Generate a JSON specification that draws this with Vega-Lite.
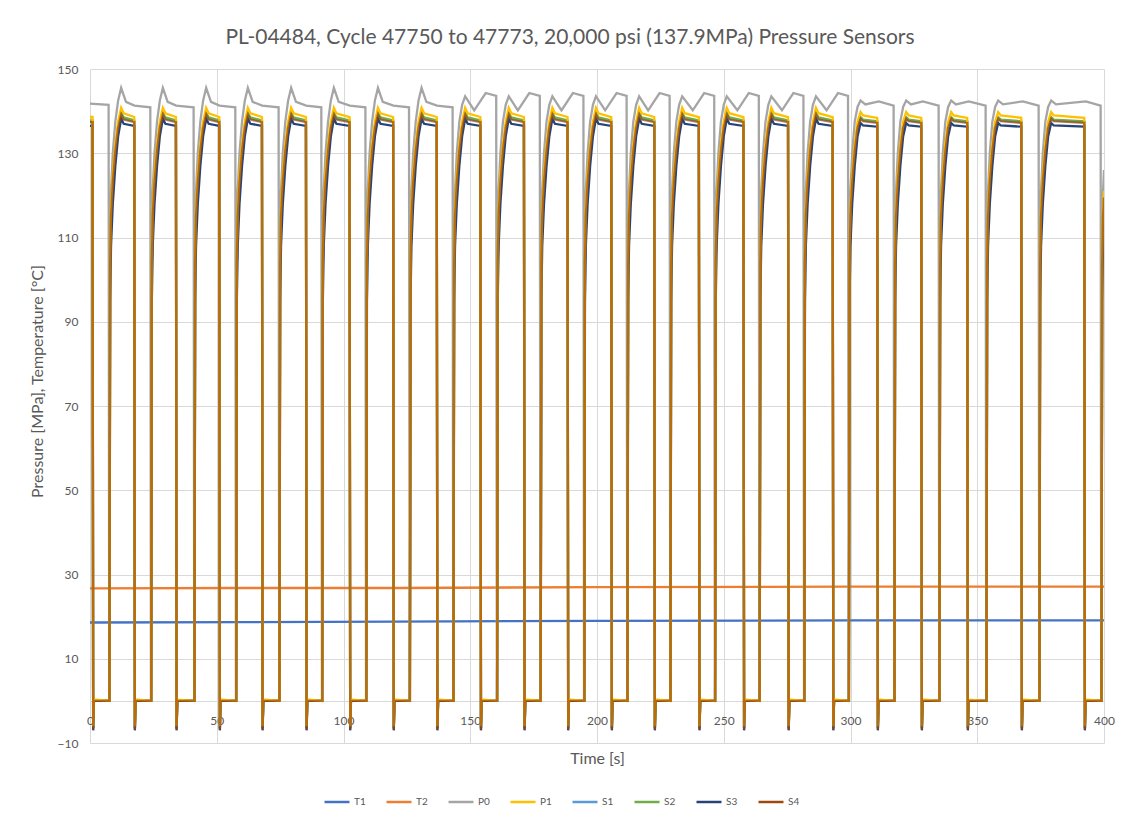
{
"$schema": "https://vega.github.io/schema/vega-lite/v6.json",
"width": 1014, "height": 674,
"autosize": {"type": "none"},
"padding": {"left": 90, "top": 69, "right": 23, "bottom": 80},
"background": "white",
"title": {"text": "PL-04484, Cycle 47750 to 47773, 20,000 psi (137.9MPa) Pressure Sensors", "font": "Lato", "fontSize": 21, "fontWeight": "normal", "color": "#595959", "anchor": "middle", "dx": -27, "offset": 15},
"datasets": {
"temps": [
{"t":0,"T1":18.6,"T2":26.7},{"t":60,"T1":18.7,"T2":26.8},{"t":120,"T1":18.8,"T2":26.8},{"t":200,"T1":19.0,"T2":27.0},{"t":300,"T1":19.1,"T2":27.1},{"t":400,"T1":19.1,"T2":27.1}
],
"p0": [
{"t":0,"P0":141.8},
{"t":7.34,"P0":141.5},{"t":7.59,"P0":0},{"t":7.94,"P0":108},{"t":8.29,"P0":121},{"t":8.99,"P0":130},{"t":9.99,"P0":137.5},{"t":11.09,"P0":142.5},{"t":12.29,"P0":145.5},{"t":14.19,"P0":142.2},{"t":17.55,"P0":141.3},
{"t":23.79,"P0":140.9},{"t":24.04,"P0":0},{"t":24.39,"P0":108},{"t":24.74,"P0":121},{"t":25.44,"P0":130},{"t":26.44,"P0":137.5},{"t":27.54,"P0":142.5},{"t":28.74,"P0":145.5},{"t":30.64,"P0":142.2},{"t":34.00,"P0":141.3},
{"t":40.87,"P0":140.9},{"t":41.12,"P0":0},{"t":41.47,"P0":108},{"t":41.82,"P0":121},{"t":42.52,"P0":130},{"t":43.52,"P0":137.5},{"t":44.62,"P0":142.5},{"t":45.82,"P0":145.5},{"t":47.72,"P0":142.2},{"t":51.08,"P0":141.3},
{"t":57.32,"P0":140.9},{"t":57.57,"P0":0},{"t":57.92,"P0":108},{"t":58.27,"P0":121},{"t":58.97,"P0":130},{"t":59.97,"P0":137.5},{"t":61.07,"P0":142.5},{"t":62.27,"P0":145.5},{"t":64.17,"P0":142.2},{"t":67.93,"P0":141.3},
{"t":74.40,"P0":140.9},{"t":74.65,"P0":0},{"t":75.00,"P0":108},{"t":75.35,"P0":121},{"t":76.05,"P0":130},{"t":77.05,"P0":137.5},{"t":78.15,"P0":142.5},{"t":79.35,"P0":145.5},{"t":81.25,"P0":142.2},{"t":85.29,"P0":141.3},
{"t":91.25,"P0":140.9},{"t":91.50,"P0":0},{"t":91.85,"P0":108},{"t":92.20,"P0":121},{"t":92.90,"P0":130},{"t":93.90,"P0":137.5},{"t":95.00,"P0":142.5},{"t":96.20,"P0":145.5},{"t":98.10,"P0":142.2},{"t":102.49,"P0":141.3},
{"t":108.64,"P0":140.9},{"t":108.89,"P0":0},{"t":109.24,"P0":108},{"t":109.59,"P0":121},{"t":110.29,"P0":130},{"t":111.29,"P0":137.5},{"t":112.39,"P0":142.5},{"t":113.59,"P0":145.5},{"t":115.49,"P0":142.2},{"t":119.68,"P0":141.3},
{"t":125.84,"P0":140.9},{"t":126.09,"P0":0},{"t":126.44,"P0":108},{"t":126.79,"P0":121},{"t":127.49,"P0":130},{"t":128.49,"P0":137.5},{"t":129.59,"P0":142.5},{"t":130.79,"P0":145.5},{"t":132.69,"P0":142.2},{"t":136.88,"P0":141.3},
{"t":143.04,"P0":140.9},{"t":143.29,"P0":0},{"t":143.64,"P0":108},{"t":143.99,"P0":121},{"t":144.69,"P0":130},{"t":145.69,"P0":137.5},{"t":146.79,"P0":141.5},{"t":147.99,"P0":143.5},{"t":151.58,"P0":140.2},{"t":156.08,"P0":144.3},
{"t":160.24,"P0":143.6},{"t":160.49,"P0":0},{"t":160.84,"P0":108},{"t":161.19,"P0":121},{"t":161.89,"P0":130},{"t":162.89,"P0":137.5},{"t":163.99,"P0":141.5},{"t":165.19,"P0":143.5},{"t":168.78,"P0":140.2},{"t":173.28,"P0":144.3},
{"t":177.44,"P0":143.6},{"t":177.69,"P0":0},{"t":178.04,"P0":108},{"t":178.39,"P0":121},{"t":179.09,"P0":130},{"t":180.09,"P0":137.5},{"t":181.19,"P0":141.5},{"t":182.39,"P0":143.5},{"t":185.98,"P0":140.2},{"t":190.48,"P0":144.3},
{"t":194.64,"P0":143.6},{"t":194.89,"P0":0},{"t":195.24,"P0":108},{"t":195.59,"P0":121},{"t":196.29,"P0":130},{"t":197.29,"P0":137.5},{"t":198.39,"P0":141.5},{"t":199.59,"P0":143.5},{"t":203.22,"P0":140.2},{"t":207.72,"P0":144.3},
{"t":211.68,"P0":143.6},{"t":211.93,"P0":0},{"t":212.28,"P0":108},{"t":212.63,"P0":121},{"t":213.33,"P0":130},{"t":214.33,"P0":137.5},{"t":215.43,"P0":141.5},{"t":216.63,"P0":143.5},{"t":220.18,"P0":140.2},{"t":224.68,"P0":144.3},
{"t":228.65,"P0":143.6},{"t":228.90,"P0":0},{"t":229.25,"P0":108},{"t":229.60,"P0":121},{"t":230.30,"P0":130},{"t":231.30,"P0":137.5},{"t":232.40,"P0":141.5},{"t":233.60,"P0":143.5},{"t":237.78,"P0":140.2},{"t":242.28,"P0":144.3},
{"t":246.24,"P0":143.6},{"t":246.49,"P0":0},{"t":246.84,"P0":108},{"t":247.19,"P0":121},{"t":247.89,"P0":130},{"t":248.89,"P0":137.5},{"t":249.99,"P0":141.5},{"t":251.19,"P0":143.5},{"t":255.37,"P0":140.2},{"t":259.87,"P0":144.3},
{"t":263.83,"P0":143.6},{"t":264.08,"P0":0},{"t":264.43,"P0":108},{"t":264.78,"P0":121},{"t":265.48,"P0":130},{"t":266.48,"P0":137.5},{"t":267.58,"P0":141.5},{"t":268.78,"P0":143.5},{"t":272.96,"P0":140.2},{"t":277.46,"P0":144.3},
{"t":281.43,"P0":143.6},{"t":281.68,"P0":0},{"t":282.03,"P0":108},{"t":282.38,"P0":121},{"t":283.08,"P0":130},{"t":284.08,"P0":137.5},{"t":285.18,"P0":141.5},{"t":286.38,"P0":143.5},{"t":290.56,"P0":140.2},{"t":295.06,"P0":144.3},
{"t":299.02,"P0":143.6},{"t":299.27,"P0":0},{"t":299.62,"P0":108},{"t":299.97,"P0":121},{"t":300.67,"P0":130},{"t":301.67,"P0":137.5},{"t":302.77,"P0":141},{"t":303.97,"P0":142.5},{"t":305.87,"P0":141.6},{"t":311.15,"P0":142.3},
{"t":317.01,"P0":141.3},{"t":317.26,"P0":0},{"t":317.61,"P0":108},{"t":317.96,"P0":121},{"t":318.66,"P0":130},{"t":319.66,"P0":137.5},{"t":320.76,"P0":141},{"t":321.96,"P0":142.5},{"t":323.86,"P0":141.6},{"t":328.51,"P0":142.3},
{"t":334.76,"P0":141.3},{"t":335.01,"P0":0},{"t":335.36,"P0":108},{"t":335.71,"P0":121},{"t":336.41,"P0":130},{"t":337.41,"P0":137.5},{"t":338.51,"P0":141},{"t":339.71,"P0":142.5},{"t":341.61,"P0":141.6},{"t":346.65,"P0":142.3},
{"t":353.30,"P0":141.3},{"t":353.55,"P0":0},{"t":353.90,"P0":108},{"t":354.25,"P0":121},{"t":354.95,"P0":130},{"t":355.95,"P0":137.5},{"t":357.05,"P0":141},{"t":358.25,"P0":142.5},{"t":360.15,"P0":141.6},{"t":367.96,"P0":142.3},
{"t":374.21,"P0":141.3},{"t":374.46,"P0":0},{"t":374.81,"P0":108},{"t":375.16,"P0":121},{"t":375.86,"P0":130},{"t":376.86,"P0":137.5},{"t":377.96,"P0":141},{"t":379.16,"P0":142.5},{"t":381.06,"P0":141.6},{"t":392.81,"P0":142.3},
{"t":398.67,"P0":141.3},{"t":398.92,"P0":0},{"t":399.27,"P0":108},{"t":399.62,"P0":121},{"t":400,"P0":126}
],
"press": [
{"t":0,"P1":138.6,"S1":137.6,"S2":137.8,"S3":136.5,"S4":137.4},
{"t":1.00,"P1":138.6,"S1":137.6,"S2":137.8,"S3":136.5,"S4":137.4},{"t":1.25,"P1":-6,"S1":-6.5,"S2":-6.5,"S3":-7,"S4":-6.8},{"t":1.55,"P1":0.3,"S1":0,"S2":0.2,"S3":0,"S4":0},
{"t":7.69,"P1":0,"S1":0,"S2":0,"S3":0,"S4":0},{"t":7.94,"P1":106,"S1":104,"S2":105,"S3":95,"S4":104},{"t":8.29,"P1":117,"S1":115,"S2":116,"S3":108,"S4":115},{"t":8.99,"P1":125,"S1":123,"S2":124,"S3":118,"S4":123},{"t":9.99,"P1":132,"S1":130.5,"S2":131,"S3":127,"S4":130.5},{"t":11.09,"P1":137.5,"S1":136,"S2":136.5,"S3":134,"S4":136},{"t":12.29,"P1":140.8,"S1":139.3,"S2":139.6,"S3":138.2,"S4":139.2},{"t":13.29,"P1":139.5,"S1":138.2,"S2":138.5,"S3":137,"S4":138},{"t":17.45,"P1":138.6,"S1":137.6,"S2":137.8,"S3":136.5,"S4":137.4},{"t":17.70,"P1":-6,"S1":-6.5,"S2":-6.5,"S3":-7,"S4":-6.8},{"t":18.00,"P1":0.3,"S1":0,"S2":0.2,"S3":0,"S4":0},
{"t":24.14,"P1":0,"S1":0,"S2":0,"S3":0,"S4":0},{"t":24.39,"P1":106,"S1":104,"S2":105,"S3":95,"S4":104},{"t":24.74,"P1":117,"S1":115,"S2":116,"S3":108,"S4":115},{"t":25.44,"P1":125,"S1":123,"S2":124,"S3":118,"S4":123},{"t":26.44,"P1":132,"S1":130.5,"S2":131,"S3":127,"S4":130.5},{"t":27.54,"P1":137.5,"S1":136,"S2":136.5,"S3":134,"S4":136},{"t":28.74,"P1":140.8,"S1":139.3,"S2":139.6,"S3":138.2,"S4":139.2},{"t":29.74,"P1":139.5,"S1":138.2,"S2":138.5,"S3":137,"S4":138},{"t":33.90,"P1":138.6,"S1":137.6,"S2":137.8,"S3":136.5,"S4":137.4},{"t":34.15,"P1":-6,"S1":-6.5,"S2":-6.5,"S3":-7,"S4":-6.8},{"t":34.45,"P1":0.3,"S1":0,"S2":0.2,"S3":0,"S4":0},
{"t":41.22,"P1":0,"S1":0,"S2":0,"S3":0,"S4":0},{"t":41.47,"P1":106,"S1":104,"S2":105,"S3":95,"S4":104},{"t":41.82,"P1":117,"S1":115,"S2":116,"S3":108,"S4":115},{"t":42.52,"P1":125,"S1":123,"S2":124,"S3":118,"S4":123},{"t":43.52,"P1":132,"S1":130.5,"S2":131,"S3":127,"S4":130.5},{"t":44.62,"P1":137.5,"S1":136,"S2":136.5,"S3":134,"S4":136},{"t":45.82,"P1":140.8,"S1":139.3,"S2":139.6,"S3":138.2,"S4":139.2},{"t":46.82,"P1":139.5,"S1":138.2,"S2":138.5,"S3":137,"S4":138},{"t":50.98,"P1":138.6,"S1":137.6,"S2":137.8,"S3":136.5,"S4":137.4},{"t":51.23,"P1":-6,"S1":-6.5,"S2":-6.5,"S3":-7,"S4":-6.8},{"t":51.53,"P1":0.3,"S1":0,"S2":0.2,"S3":0,"S4":0},
{"t":57.67,"P1":0,"S1":0,"S2":0,"S3":0,"S4":0},{"t":57.92,"P1":106,"S1":104,"S2":105,"S3":95,"S4":104},{"t":58.27,"P1":117,"S1":115,"S2":116,"S3":108,"S4":115},{"t":58.97,"P1":125,"S1":123,"S2":124,"S3":118,"S4":123},{"t":59.97,"P1":132,"S1":130.5,"S2":131,"S3":127,"S4":130.5},{"t":61.07,"P1":137.5,"S1":136,"S2":136.5,"S3":134,"S4":136},{"t":62.27,"P1":140.8,"S1":139.3,"S2":139.6,"S3":138.2,"S4":139.2},{"t":63.27,"P1":139.5,"S1":138.2,"S2":138.5,"S3":137,"S4":138},{"t":67.83,"P1":138.6,"S1":137.6,"S2":137.8,"S3":136.5,"S4":137.4},{"t":68.08,"P1":-6,"S1":-6.5,"S2":-6.5,"S3":-7,"S4":-6.8},{"t":68.38,"P1":0.3,"S1":0,"S2":0.2,"S3":0,"S4":0},
{"t":74.75,"P1":0,"S1":0,"S2":0,"S3":0,"S4":0},{"t":75.00,"P1":106,"S1":104,"S2":105,"S3":95,"S4":104},{"t":75.35,"P1":117,"S1":115,"S2":116,"S3":108,"S4":115},{"t":76.05,"P1":125,"S1":123,"S2":124,"S3":118,"S4":123},{"t":77.05,"P1":132,"S1":130.5,"S2":131,"S3":127,"S4":130.5},{"t":78.15,"P1":137.5,"S1":136,"S2":136.5,"S3":134,"S4":136},{"t":79.35,"P1":140.8,"S1":139.3,"S2":139.6,"S3":138.2,"S4":139.2},{"t":80.35,"P1":139.5,"S1":138.2,"S2":138.5,"S3":137,"S4":138},{"t":85.19,"P1":138.6,"S1":137.6,"S2":137.8,"S3":136.5,"S4":137.4},{"t":85.44,"P1":-6,"S1":-6.5,"S2":-6.5,"S3":-7,"S4":-6.8},{"t":85.74,"P1":0.3,"S1":0,"S2":0.2,"S3":0,"S4":0},
{"t":91.60,"P1":0,"S1":0,"S2":0,"S3":0,"S4":0},{"t":91.85,"P1":106,"S1":104,"S2":105,"S3":95,"S4":104},{"t":92.20,"P1":117,"S1":115,"S2":116,"S3":108,"S4":115},{"t":92.90,"P1":125,"S1":123,"S2":124,"S3":118,"S4":123},{"t":93.90,"P1":132,"S1":130.5,"S2":131,"S3":127,"S4":130.5},{"t":95.00,"P1":137.5,"S1":136,"S2":136.5,"S3":134,"S4":136},{"t":96.20,"P1":140.8,"S1":139.3,"S2":139.6,"S3":138.2,"S4":139.2},{"t":97.20,"P1":139.5,"S1":138.2,"S2":138.5,"S3":137,"S4":138},{"t":102.39,"P1":138.6,"S1":137.6,"S2":137.8,"S3":136.5,"S4":137.4},{"t":102.64,"P1":-6,"S1":-6.5,"S2":-6.5,"S3":-7,"S4":-6.8},{"t":102.94,"P1":0.3,"S1":0,"S2":0.2,"S3":0,"S4":0},
{"t":108.99,"P1":0,"S1":0,"S2":0,"S3":0,"S4":0},{"t":109.24,"P1":106,"S1":104,"S2":105,"S3":95,"S4":104},{"t":109.59,"P1":117,"S1":115,"S2":116,"S3":108,"S4":115},{"t":110.29,"P1":125,"S1":123,"S2":124,"S3":118,"S4":123},{"t":111.29,"P1":132,"S1":130.5,"S2":131,"S3":127,"S4":130.5},{"t":112.39,"P1":137.5,"S1":136,"S2":136.5,"S3":134,"S4":136},{"t":113.59,"P1":140.8,"S1":139.3,"S2":139.6,"S3":138.2,"S4":139.2},{"t":114.59,"P1":139.5,"S1":138.2,"S2":138.5,"S3":137,"S4":138},{"t":119.58,"P1":138.6,"S1":137.6,"S2":137.8,"S3":136.5,"S4":137.4},{"t":119.83,"P1":-6,"S1":-6.5,"S2":-6.5,"S3":-7,"S4":-6.8},{"t":120.13,"P1":0.3,"S1":0,"S2":0.2,"S3":0,"S4":0},
{"t":126.19,"P1":0,"S1":0,"S2":0,"S3":0,"S4":0},{"t":126.44,"P1":106,"S1":104,"S2":105,"S3":95,"S4":104},{"t":126.79,"P1":117,"S1":115,"S2":116,"S3":108,"S4":115},{"t":127.49,"P1":125,"S1":123,"S2":124,"S3":118,"S4":123},{"t":128.49,"P1":132,"S1":130.5,"S2":131,"S3":127,"S4":130.5},{"t":129.59,"P1":137.5,"S1":136,"S2":136.5,"S3":134,"S4":136},{"t":130.79,"P1":140.8,"S1":139.3,"S2":139.6,"S3":138.2,"S4":139.2},{"t":131.79,"P1":139.5,"S1":138.2,"S2":138.5,"S3":137,"S4":138},{"t":136.78,"P1":138.6,"S1":137.6,"S2":137.8,"S3":136.5,"S4":137.4},{"t":137.03,"P1":-6,"S1":-6.5,"S2":-6.5,"S3":-7,"S4":-6.8},{"t":137.33,"P1":0.3,"S1":0,"S2":0.2,"S3":0,"S4":0},
{"t":143.39,"P1":0,"S1":0,"S2":0,"S3":0,"S4":0},{"t":143.64,"P1":106,"S1":104,"S2":105,"S3":95,"S4":104},{"t":143.99,"P1":117,"S1":115,"S2":116,"S3":108,"S4":115},{"t":144.69,"P1":125,"S1":123,"S2":124,"S3":118,"S4":123},{"t":145.69,"P1":132,"S1":130.5,"S2":131,"S3":127,"S4":130.5},{"t":146.79,"P1":137.5,"S1":136,"S2":136.5,"S3":134,"S4":136},{"t":147.99,"P1":140.8,"S1":139.3,"S2":139.6,"S3":138.2,"S4":139.2},{"t":148.99,"P1":139.5,"S1":138.2,"S2":138.5,"S3":137,"S4":138},{"t":153.98,"P1":138.6,"S1":137.6,"S2":137.8,"S3":136.5,"S4":137.4},{"t":154.23,"P1":-6,"S1":-6.5,"S2":-6.5,"S3":-7,"S4":-6.8},{"t":154.53,"P1":0.3,"S1":0,"S2":0.2,"S3":0,"S4":0},
{"t":160.59,"P1":0,"S1":0,"S2":0,"S3":0,"S4":0},{"t":160.84,"P1":106,"S1":104,"S2":105,"S3":95,"S4":104},{"t":161.19,"P1":117,"S1":115,"S2":116,"S3":108,"S4":115},{"t":161.89,"P1":125,"S1":123,"S2":124,"S3":118,"S4":123},{"t":162.89,"P1":132,"S1":130.5,"S2":131,"S3":127,"S4":130.5},{"t":163.99,"P1":137.5,"S1":136,"S2":136.5,"S3":134,"S4":136},{"t":165.19,"P1":140.8,"S1":139.3,"S2":139.6,"S3":138.2,"S4":139.2},{"t":166.19,"P1":139.5,"S1":138.2,"S2":138.5,"S3":137,"S4":138},{"t":171.18,"P1":138.6,"S1":137.6,"S2":137.8,"S3":136.5,"S4":137.4},{"t":171.43,"P1":-6,"S1":-6.5,"S2":-6.5,"S3":-7,"S4":-6.8},{"t":171.73,"P1":0.3,"S1":0,"S2":0.2,"S3":0,"S4":0},
{"t":177.79,"P1":0,"S1":0,"S2":0,"S3":0,"S4":0},{"t":178.04,"P1":106,"S1":104,"S2":105,"S3":95,"S4":104},{"t":178.39,"P1":117,"S1":115,"S2":116,"S3":108,"S4":115},{"t":179.09,"P1":125,"S1":123,"S2":124,"S3":118,"S4":123},{"t":180.09,"P1":132,"S1":130.5,"S2":131,"S3":127,"S4":130.5},{"t":181.19,"P1":137.5,"S1":136,"S2":136.5,"S3":134,"S4":136},{"t":182.39,"P1":140.8,"S1":139.3,"S2":139.6,"S3":138.2,"S4":139.2},{"t":183.39,"P1":139.5,"S1":138.2,"S2":138.5,"S3":137,"S4":138},{"t":188.38,"P1":138.6,"S1":137.6,"S2":137.8,"S3":136.5,"S4":137.4},{"t":188.63,"P1":-6,"S1":-6.5,"S2":-6.5,"S3":-7,"S4":-6.8},{"t":188.93,"P1":0.3,"S1":0,"S2":0.2,"S3":0,"S4":0},
{"t":194.99,"P1":0,"S1":0,"S2":0,"S3":0,"S4":0},{"t":195.24,"P1":106,"S1":104,"S2":105,"S3":95,"S4":104},{"t":195.59,"P1":117,"S1":115,"S2":116,"S3":108,"S4":115},{"t":196.29,"P1":125,"S1":123,"S2":124,"S3":118,"S4":123},{"t":197.29,"P1":132,"S1":130.5,"S2":131,"S3":127,"S4":130.5},{"t":198.39,"P1":137.5,"S1":136,"S2":136.5,"S3":134,"S4":136},{"t":199.59,"P1":140.8,"S1":139.3,"S2":139.6,"S3":138.2,"S4":139.2},{"t":200.59,"P1":139.5,"S1":138.2,"S2":138.5,"S3":137,"S4":138},{"t":205.62,"P1":138.6,"S1":137.6,"S2":137.8,"S3":136.5,"S4":137.4},{"t":205.87,"P1":-6,"S1":-6.5,"S2":-6.5,"S3":-7,"S4":-6.8},{"t":206.17,"P1":0.3,"S1":0,"S2":0.2,"S3":0,"S4":0},
{"t":212.03,"P1":0,"S1":0,"S2":0,"S3":0,"S4":0},{"t":212.28,"P1":106,"S1":104,"S2":105,"S3":95,"S4":104},{"t":212.63,"P1":117,"S1":115,"S2":116,"S3":108,"S4":115},{"t":213.33,"P1":125,"S1":123,"S2":124,"S3":118,"S4":123},{"t":214.33,"P1":132,"S1":130.5,"S2":131,"S3":127,"S4":130.5},{"t":215.43,"P1":137.5,"S1":136,"S2":136.5,"S3":134,"S4":136},{"t":216.63,"P1":140.8,"S1":139.3,"S2":139.6,"S3":138.2,"S4":139.2},{"t":217.63,"P1":139.5,"S1":138.2,"S2":138.5,"S3":137,"S4":138},{"t":222.58,"P1":138.6,"S1":137.6,"S2":137.8,"S3":136.5,"S4":137.4},{"t":222.83,"P1":-6,"S1":-6.5,"S2":-6.5,"S3":-7,"S4":-6.8},{"t":223.13,"P1":0.3,"S1":0,"S2":0.2,"S3":0,"S4":0},
{"t":229.00,"P1":0,"S1":0,"S2":0,"S3":0,"S4":0},{"t":229.25,"P1":106,"S1":104,"S2":105,"S3":95,"S4":104},{"t":229.60,"P1":117,"S1":115,"S2":116,"S3":108,"S4":115},{"t":230.30,"P1":125,"S1":123,"S2":124,"S3":118,"S4":123},{"t":231.30,"P1":132,"S1":130.5,"S2":131,"S3":127,"S4":130.5},{"t":232.40,"P1":137.5,"S1":136,"S2":136.5,"S3":134,"S4":136},{"t":233.60,"P1":140.8,"S1":139.3,"S2":139.6,"S3":138.2,"S4":139.2},{"t":234.60,"P1":139.5,"S1":138.2,"S2":138.5,"S3":137,"S4":138},{"t":240.18,"P1":138.6,"S1":137.6,"S2":137.8,"S3":136.5,"S4":137.4},{"t":240.43,"P1":-6,"S1":-6.5,"S2":-6.5,"S3":-7,"S4":-6.8},{"t":240.73,"P1":0.3,"S1":0,"S2":0.2,"S3":0,"S4":0},
{"t":246.59,"P1":0,"S1":0,"S2":0,"S3":0,"S4":0},{"t":246.84,"P1":106,"S1":104,"S2":105,"S3":95,"S4":104},{"t":247.19,"P1":117,"S1":115,"S2":116,"S3":108,"S4":115},{"t":247.89,"P1":125,"S1":123,"S2":124,"S3":118,"S4":123},{"t":248.89,"P1":132,"S1":130.5,"S2":131,"S3":127,"S4":130.5},{"t":249.99,"P1":137.5,"S1":136,"S2":136.5,"S3":134,"S4":136},{"t":251.19,"P1":140.8,"S1":139.3,"S2":139.6,"S3":138.2,"S4":139.2},{"t":252.19,"P1":139.5,"S1":138.2,"S2":138.5,"S3":137,"S4":138},{"t":257.77,"P1":138.6,"S1":137.6,"S2":137.8,"S3":136.5,"S4":137.4},{"t":258.02,"P1":-6,"S1":-6.5,"S2":-6.5,"S3":-7,"S4":-6.8},{"t":258.32,"P1":0.3,"S1":0,"S2":0.2,"S3":0,"S4":0},
{"t":264.18,"P1":0,"S1":0,"S2":0,"S3":0,"S4":0},{"t":264.43,"P1":106,"S1":104,"S2":105,"S3":95,"S4":104},{"t":264.78,"P1":117,"S1":115,"S2":116,"S3":108,"S4":115},{"t":265.48,"P1":125,"S1":123,"S2":124,"S3":118,"S4":123},{"t":266.48,"P1":132,"S1":130.5,"S2":131,"S3":127,"S4":130.5},{"t":267.58,"P1":137.5,"S1":136,"S2":136.5,"S3":134,"S4":136},{"t":268.78,"P1":140.8,"S1":139.3,"S2":139.6,"S3":138.2,"S4":139.2},{"t":269.78,"P1":139.5,"S1":138.2,"S2":138.5,"S3":137,"S4":138},{"t":275.36,"P1":138.6,"S1":137.6,"S2":137.8,"S3":136.5,"S4":137.4},{"t":275.61,"P1":-6,"S1":-6.5,"S2":-6.5,"S3":-7,"S4":-6.8},{"t":275.91,"P1":0.3,"S1":0,"S2":0.2,"S3":0,"S4":0},
{"t":281.78,"P1":0,"S1":0,"S2":0,"S3":0,"S4":0},{"t":282.03,"P1":106,"S1":104,"S2":105,"S3":95,"S4":104},{"t":282.38,"P1":117,"S1":115,"S2":116,"S3":108,"S4":115},{"t":283.08,"P1":125,"S1":123,"S2":124,"S3":118,"S4":123},{"t":284.08,"P1":132,"S1":130.5,"S2":131,"S3":127,"S4":130.5},{"t":285.18,"P1":137.5,"S1":136,"S2":136.5,"S3":134,"S4":136},{"t":286.38,"P1":140.8,"S1":139.3,"S2":139.6,"S3":138.2,"S4":139.2},{"t":287.38,"P1":139.5,"S1":138.2,"S2":138.5,"S3":137,"S4":138},{"t":292.96,"P1":138.6,"S1":137.6,"S2":137.8,"S3":136.5,"S4":137.4},{"t":293.21,"P1":-6,"S1":-6.5,"S2":-6.5,"S3":-7,"S4":-6.8},{"t":293.51,"P1":0.3,"S1":0,"S2":0.2,"S3":0,"S4":0},
{"t":299.37,"P1":0,"S1":0,"S2":0,"S3":0,"S4":0},{"t":299.62,"P1":106,"S1":104,"S2":105,"S3":95,"S4":104},{"t":299.97,"P1":117,"S1":115,"S2":116,"S3":108,"S4":115},{"t":300.67,"P1":125,"S1":123,"S2":124,"S3":118,"S4":123},{"t":301.67,"P1":132,"S1":130.5,"S2":131,"S3":127,"S4":130.5},{"t":302.77,"P1":137.5,"S1":136,"S2":136.5,"S3":134,"S4":136},{"t":303.97,"P1":139.8,"S1":138.3,"S2":138.6,"S3":137.2,"S4":138.2},{"t":304.97,"P1":139,"S1":137.8,"S2":138,"S3":136.6,"S4":137.6},{"t":310.55,"P1":138.4,"S1":137.4,"S2":137.6,"S3":136.3,"S4":137.2},{"t":310.80,"P1":-6,"S1":-6.5,"S2":-6.5,"S3":-7,"S4":-6.8},{"t":311.10,"P1":0.3,"S1":0,"S2":0.2,"S3":0,"S4":0},
{"t":317.36,"P1":0,"S1":0,"S2":0,"S3":0,"S4":0},{"t":317.61,"P1":106,"S1":104,"S2":105,"S3":95,"S4":104},{"t":317.96,"P1":117,"S1":115,"S2":116,"S3":108,"S4":115},{"t":318.66,"P1":125,"S1":123,"S2":124,"S3":118,"S4":123},{"t":319.66,"P1":132,"S1":130.5,"S2":131,"S3":127,"S4":130.5},{"t":320.76,"P1":137.5,"S1":136,"S2":136.5,"S3":134,"S4":136},{"t":321.96,"P1":139.8,"S1":138.3,"S2":138.6,"S3":137.2,"S4":138.2},{"t":322.96,"P1":139,"S1":137.8,"S2":138,"S3":136.6,"S4":137.6},{"t":327.91,"P1":138.4,"S1":137.4,"S2":137.6,"S3":136.3,"S4":137.2},{"t":328.16,"P1":-6,"S1":-6.5,"S2":-6.5,"S3":-7,"S4":-6.8},{"t":328.46,"P1":0.3,"S1":0,"S2":0.2,"S3":0,"S4":0},
{"t":335.11,"P1":0,"S1":0,"S2":0,"S3":0,"S4":0},{"t":335.36,"P1":106,"S1":104,"S2":105,"S3":95,"S4":104},{"t":335.71,"P1":117,"S1":115,"S2":116,"S3":108,"S4":115},{"t":336.41,"P1":125,"S1":123,"S2":124,"S3":118,"S4":123},{"t":337.41,"P1":132,"S1":130.5,"S2":131,"S3":127,"S4":130.5},{"t":338.51,"P1":137.5,"S1":136,"S2":136.5,"S3":134,"S4":136},{"t":339.71,"P1":139.8,"S1":138.3,"S2":138.6,"S3":137.2,"S4":138.2},{"t":340.71,"P1":139,"S1":137.8,"S2":138,"S3":136.6,"S4":137.6},{"t":346.05,"P1":138.4,"S1":137.4,"S2":137.6,"S3":136.3,"S4":137.2},{"t":346.30,"P1":-6,"S1":-6.5,"S2":-6.5,"S3":-7,"S4":-6.8},{"t":346.60,"P1":0.3,"S1":0,"S2":0.2,"S3":0,"S4":0},
{"t":353.65,"P1":0,"S1":0,"S2":0,"S3":0,"S4":0},{"t":353.90,"P1":106,"S1":104,"S2":105,"S3":95,"S4":104},{"t":354.25,"P1":117,"S1":115,"S2":116,"S3":108,"S4":115},{"t":354.95,"P1":125,"S1":123,"S2":124,"S3":118,"S4":123},{"t":355.95,"P1":132,"S1":130.5,"S2":131,"S3":127,"S4":130.5},{"t":357.05,"P1":137.5,"S1":136,"S2":136.5,"S3":134,"S4":136},{"t":358.25,"P1":139.8,"S1":138.3,"S2":138.6,"S3":137.2,"S4":138.2},{"t":359.25,"P1":139,"S1":137.8,"S2":138,"S3":136.6,"S4":137.6},{"t":367.36,"P1":138.4,"S1":137.4,"S2":137.6,"S3":136.3,"S4":137.2},{"t":367.61,"P1":-6,"S1":-6.5,"S2":-6.5,"S3":-7,"S4":-6.8},{"t":367.91,"P1":0.3,"S1":0,"S2":0.2,"S3":0,"S4":0},
{"t":374.56,"P1":0,"S1":0,"S2":0,"S3":0,"S4":0},{"t":374.81,"P1":106,"S1":104,"S2":105,"S3":95,"S4":104},{"t":375.16,"P1":117,"S1":115,"S2":116,"S3":108,"S4":115},{"t":375.86,"P1":125,"S1":123,"S2":124,"S3":118,"S4":123},{"t":376.86,"P1":132,"S1":130.5,"S2":131,"S3":127,"S4":130.5},{"t":377.96,"P1":137.5,"S1":136,"S2":136.5,"S3":134,"S4":136},{"t":379.16,"P1":139.8,"S1":138.3,"S2":138.6,"S3":137.2,"S4":138.2},{"t":380.16,"P1":139,"S1":137.8,"S2":138,"S3":136.6,"S4":137.6},{"t":392.21,"P1":138.4,"S1":137.4,"S2":137.6,"S3":136.3,"S4":137.2},{"t":392.46,"P1":-6,"S1":-6.5,"S2":-6.5,"S3":-7,"S4":-6.8},{"t":392.76,"P1":0.3,"S1":0,"S2":0.2,"S3":0,"S4":0},
{"t":399.02,"P1":0,"S1":0,"S2":0,"S3":0,"S4":0},{"t":399.27,"P1":106,"S1":104,"S2":105,"S3":95,"S4":104},{"t":399.62,"P1":117,"S1":115,"S2":116,"S3":108,"S4":115},{"t":400,"P1":121,"S1":119.5,"S2":120,"S3":113,"S4":119.5}
]
},
"encoding": {
"x": {"field": "t", "type": "quantitative", "scale": {"domain": [0, 400], "nice": false}, "axis": {"values": [0,50,100,150,200,250,300,350,400], "format": "d", "title": "Time [s]", "offset": -42, "ticks": false, "labelPadding": 14, "titlePadding": 24, "titleFontSize": 16, "grid": true, "gridColor": "#d9d9d9", "domainColor": "#d9d9d9", "labelFlush": false}},
"y": {"field": "v", "type": "quantitative", "scale": {"domain": [-10, 150], "nice": false, "zero": false}, "axis": {"values": [-10,10,30,50,70,90,110,130,150], "title": "Pressure [MPa], Temperature [°C]", "titleFontSize": 16, "ticks": false, "domain": false, "labelPadding": 12, "grid": true, "gridColor": "#d9d9d9", "titleX": -53, "titleY": 312, "titleAngle": -90, "titleBaseline": "middle"}},
"color": {"field": "series", "type": "nominal", "scale": {"domain": ["T1","T2","P0","P1","S1","S2","S3","S4"], "range": ["#4472C4","#ED7D31","#A5A5A5","#FFC000","#5B9BD5","#70AD47","#264478","#9E480E"]}, "legend": {"orient": "none", "legendX": 233, "legendY": 719, "direction": "horizontal", "columns": 8, "title": null, "symbolType": "stroke", "symbolSize": 625, "symbolStrokeWidth": 2.5, "symbolOpacity": 1, "labelFontSize": 10, "labelColor": "#595959", "labelOffset": 3, "columnPadding": 15, "labelFont": "Lato"}}
},
"layer": [
{"data": {"name": "temps"}, "transform": [{"fold": ["T1","T2"], "as": ["series","v"]}], "mark": {"type": "line", "strokeWidth": 2.3, "clip": true}},
{"data": {"name": "p0"}, "transform": [{"fold": ["P0"], "as": ["series","v"]}], "mark": {"type": "line", "strokeWidth": 2.3, "clip": true}},
{"data": {"name": "press"}, "transform": [{"fold": ["S1","S2","S3"], "as": ["series","v"]}], "mark": {"type": "line", "strokeWidth": 2.3, "clip": true}},
{"data": {"name": "press"}, "transform": [{"fold": ["P1"], "as": ["series","v"]}], "mark": {"type": "line", "strokeWidth": 2.3, "clip": true}},
{"data": {"name": "press"}, "transform": [{"fold": ["S4"], "as": ["series","v"]}], "mark": {"type": "line", "strokeWidth": 2.3, "strokeOpacity": 0.7, "clip": true}}
],
"config": {
"view": {"stroke": null},
"font": "Lato",
"axis": {"labelFont": "Lato", "labelFontSize": 12, "labelColor": "#595959", "titleFont": "Lato", "titleFontWeight": "normal", "titleColor": "#595959", "gridWidth": 1}
}
}
